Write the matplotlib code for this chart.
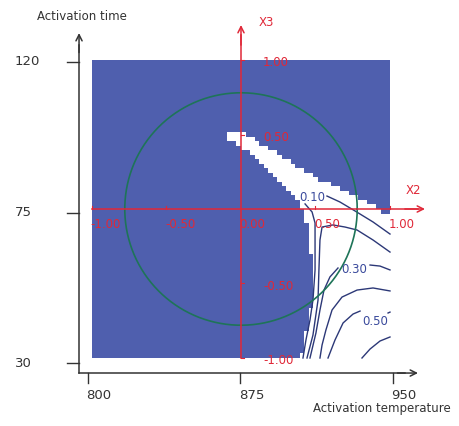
"""Response surface in coded units: X2 (activation temperature) vs X3 (activation time)."""

import matplotlib
matplotlib.use('Agg')
import matplotlib.pyplot as plt
import numpy as np
from matplotlib.colors import ListedColormap
from matplotlib.path import Path

# Outer (real unit) axes.
temp_ticks = [800, 875, 950]
time_ticks = [30, 75, 120]

# Coded axes ticks.
coded_ticks = [-1.0, -0.5, 0.0, 0.5, 1.0]
coded_labels = ['-1.00', '-0.50', '0.00', '0.50', '1.00']

# Region above the lowest level (white), traced in coded units.
region_x2 = [-0.087, -0.007, 0.081, 0.195, 0.309, 0.416, 0.530, 0.685, 0.819,
             0.933, 1.0, 1.0, 0.403, 0.430, 0.456, 0.477, 0.477, 0.463, 0.443,
             0.416, 0.396, 0.376, 0.309, 0.195, 0.081, -0.027, -0.087]
region_x3 = [0.530, 0.522, 0.475, 0.400, 0.332, 0.264, 0.197, 0.128, 0.060,
             -0.007, -0.047, -1.0, -1.0, -0.859, -0.745, -0.611, -0.409, -0.188,
             -0.094, 0.000, 0.040, 0.080, 0.135, 0.245, 0.350, 0.445, 0.475]

# Contour levels, each as a list of (x2, x3) polylines.
contours = {
    '0.10': [
        ([0.577, 0.664, 0.765, 0.886, 1.0], [0.087, 0.047, -0.013, -0.087, -0.168]),
        ([0.430, 0.477, 0.497, 0.497, 0.497, 0.483, 0.463, 0.436, 0.416],
         [0.034, -0.020, -0.094, -0.242, -0.409, -0.611, -0.745, -0.879, -1.0]),
    ],
    '0.20': [
        ([1.0, 0.886, 0.779, 0.698, 0.617, 0.544, 0.530, 0.523, 0.517, 0.483, 0.443],
         [-0.289, -0.208, -0.141, -0.121, -0.107, -0.121, -0.208, -0.409, -0.611,
          -0.846, -1.0]),
    ],
    '0.30': [
        ([0.866, 0.933, 1.0], [-0.376, -0.383, -0.409]),
        ([0.651, 0.597, 0.557, 0.530, 0.503, 0.463],
         [-0.396, -0.456, -0.544, -0.678, -0.832, -1.0]),
    ],
    '0.40': [
        ([1.0, 0.886, 0.779, 0.678, 0.611, 0.570, 0.544, 0.530],
         [-0.550, -0.530, -0.544, -0.591, -0.678, -0.812, -0.913, -1.0]),
    ],
    '0.50': [
        ([0.799, 0.752, 0.685, 0.631, 0.584], [-0.685, -0.705, -0.765, -0.879, -1.0]),
        ([0.987, 1.0], [-0.698, -0.692]),
    ],
    '0.60': [
        ([1.0, 0.933, 0.866, 0.812], [-0.859, -0.886, -0.940, -1.0]),
    ],
}
contour_labels = {'0.10': (0.477, 0.074), '0.30': (0.758, -0.403), '0.50': (0.899, -0.752)}

circle_radius = 0.78

BLUE = '#4f5fae'
RED = '#e02838'
NAVY = '#2c3877'
GREEN = '#1e7458'
GREY = '#333333'


def temp_to_x(t):
    return -1.027 + (t - 800) * (2.047 / 150)


def time_to_y(t):
    return -1.034 + (t - 30) * (2.021 / 90)


def arrow(ax, start, end, color):
    ax.annotate('', xy=end, xytext=start, zorder=5,
                arrowprops=dict(arrowstyle='->', color=color, lw=1.1,
                                shrinkA=0, shrinkB=0, mutation_scale=11))


def main():
    fig = plt.figure(figsize=(4.6, 4.26), dpi=100)
    ax = fig.add_axes([0, 0, 1, 1])
    ax.set_xlim(-1.6174, 1.4698)
    ax.set_ylim(-1.4564, 1.4027)
    ax.axis('off')

    # Blue/white map on a coarse grid.
    n = 66
    h = 2.0 / n
    centers = np.linspace(-1 + h / 2, 1 - h / 2, n)
    gx, gy = np.meshgrid(centers, centers)
    region = Path(np.column_stack((region_x2, region_x3)))
    inside = region.contains_points(np.column_stack((gx.ravel(), gy.ravel())))
    mask = inside.reshape(gx.shape).astype(float)
    ax.imshow(mask, extent=(-1, 1, -1, 1), origin='lower', interpolation='nearest',
              cmap=ListedColormap([BLUE, 'white']), vmin=0, vmax=1, zorder=1)

    # Contour lines and their labels.
    for level, lines in contours.items():
        for xs, ys in lines:
            ax.plot(xs, ys, color=NAVY, lw=1.0, zorder=2)
    for level, (lx, ly) in contour_labels.items():
        ax.text(lx, ly, level, color='#3a4a9c', fontsize=8.5, ha='center',
                va='center', zorder=4)

    # Design circle.
    theta = np.linspace(0, 2 * np.pi, 400)
    ax.plot(circle_radius * np.cos(theta), circle_radius * np.sin(theta),
            color=GREEN, lw=1.2, zorder=2)

    # Coded axes in red.
    ax.plot([-1.0, 1.19], [0, 0], color=RED, lw=1.1, zorder=3)
    ax.plot([0, 0], [-1.0, 1.17], color=RED, lw=1.1, zorder=3)
    arrow(ax, (1.1, 0), (1.235, 0), RED)
    arrow(ax, (0, 1.1), (0, 1.235), RED)
    ax.text(0.168, 1.255, 'X3', color=RED, fontsize=8.5, ha='center', va='center')
    ax.text(1.154, 0.121, 'X2', color=RED, fontsize=8.5, ha='center', va='center')
    for t, lab in zip(coded_ticks, coded_labels):
        ax.text(t - 0.01, -0.107, lab, color=RED, fontsize=8.5, ha='left',
                va='center', zorder=4)
        if t != 0:
            ax.plot([t, t], [0, 0.02], color=RED, lw=0.8, zorder=3)
            ax.plot([0, 0.02], [t, t], color=RED, lw=0.8, zorder=3)
            ax.text(0.148, t - 0.02, lab, color=RED, fontsize=8.5, ha='left',
                    va='center', zorder=4)

    # Real-unit axes in black.
    x0, y0 = -1.087, -1.101
    ax.plot([x0, x0], [y0, 1.1], color=GREY, lw=1.1)
    ax.plot([x0, 1.1], [y0, y0], color=GREY, lw=1.1)
    arrow(ax, (x0, 1.05), (x0, 1.181), GREY)
    arrow(ax, (1.05, y0), (1.188, y0), GREY)
    for t in temp_ticks:
        x = temp_to_x(t)
        ax.plot([x, x], [y0, y0 - 0.067], color=GREY, lw=1.0)
        ax.text(x - 0.01, -1.255, str(t), color=GREY, fontsize=9.5, ha='left',
                va='center')
    for t in time_ticks:
        y = time_to_y(t)
        ax.plot([x0 - 0.081, x0], [y, y], color=GREY, lw=1.0)
        ax.text(-1.517, y, str(t), color=GREY, fontsize=9.5, ha='left',
                va='center')
    ax.text(-1.067, 1.289, 'Activation time', color=GREY, fontsize=8.5,
            ha='center', va='center')
    ax.text(0.946, -1.336, 'Activation temperature', color=GREY, fontsize=8.5,
            ha='center', va='center')

    fig.savefig('out.png', dpi=100)


if __name__ == '__main__':
    main()
